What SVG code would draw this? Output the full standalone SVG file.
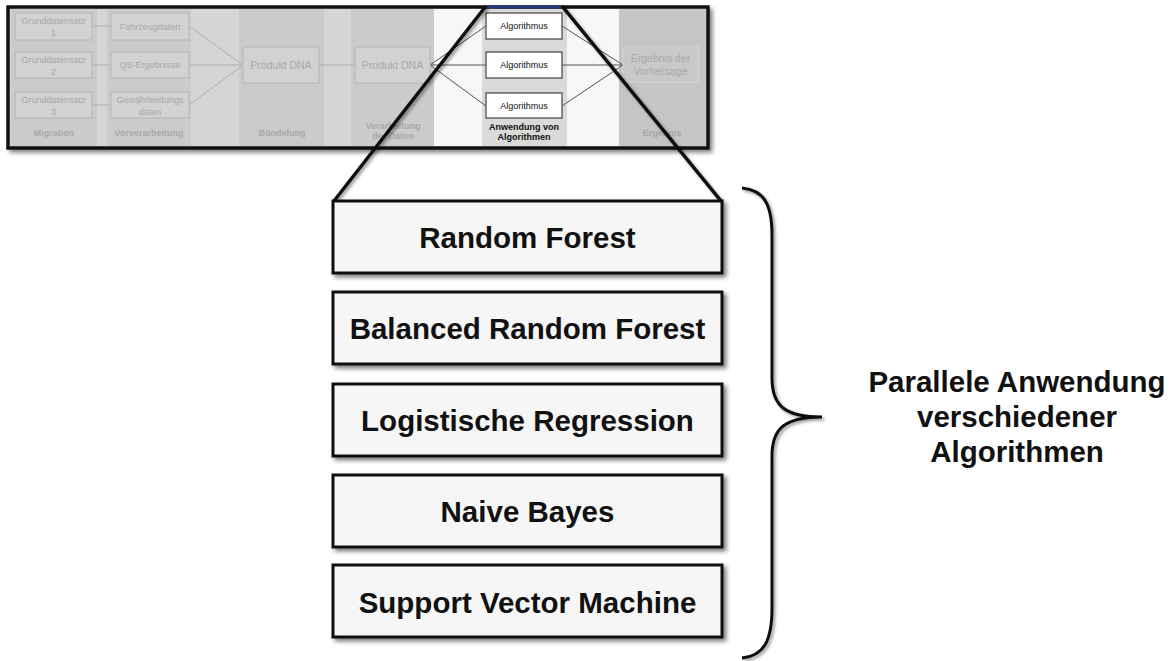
<svg xmlns="http://www.w3.org/2000/svg" width="1173" height="661" viewBox="0 0 1173 661">
<defs>
<filter id="sh" x="-10%" y="-10%" width="130%" height="140%">
<feDropShadow dx="3" dy="3" stdDeviation="2" flood-color="#000" flood-opacity="0.5"/>
</filter>
<filter id="shl" x="-20%" y="-20%" width="140%" height="140%">
<feDropShadow dx="2" dy="2" stdDeviation="1.5" flood-color="#000" flood-opacity="0.4"/>
</filter>
<style>
.fbox{fill:#d2d2d2;stroke:#bababa;stroke-width:1.2}
.ftxt{font-family:"Liberation Sans",Arial,sans-serif;font-size:9px;fill:#a9a9a9;text-anchor:middle}
.fbig{font-family:"Liberation Sans",Arial,sans-serif;font-size:10.5px;fill:#a9a9a9;text-anchor:middle}
.flab{font-family:"Liberation Sans",Arial,sans-serif;font-size:9px;font-weight:bold;fill:#a9a9a9;text-anchor:middle}
.fline{stroke:#b0b0b0;stroke-width:1;fill:none}
.aline{stroke:#555;stroke-width:1;fill:none}
.abox{fill:#fff;stroke:#444;stroke-width:1.2}
.atxt{font-family:"Liberation Sans",Arial,sans-serif;font-size:9px;fill:#111;text-anchor:middle}
.alab{font-family:"Liberation Sans",Arial,sans-serif;font-size:9px;font-weight:bold;fill:#111;text-anchor:middle}
.big{fill:#f6f6f6;stroke:#111;stroke-width:3}
.btxt{font-family:"Liberation Sans",Arial,sans-serif;font-size:29.5px;font-weight:bold;fill:#111;text-anchor:middle}
.zoom{stroke:#111;stroke-width:3.5;fill:none}
</style>
</defs>

<g id="overview">
<rect x="8" y="7" width="700" height="141" fill="#d5d5d5" stroke="#111" stroke-width="3" filter="url(#sh)"/>
<rect x="11" y="9" width="86" height="137" fill="#cbcbcb"/>
<rect x="107" y="9" width="84" height="137" fill="#cbcbcb"/>
<rect x="239" y="9" width="85" height="137" fill="#cbcbcb"/>
<rect x="351" y="9" width="83" height="137" fill="#cbcbcb"/>
<rect x="434" y="9" width="185" height="137" fill="#f7f7f7"/>
<rect x="482" y="9" width="85" height="137" fill="#dadada"/>
<rect x="619" y="9" width="87" height="137" fill="#c5c5c5"/>
<rect x="8" y="7" width="700" height="141" fill="none" stroke="#111" stroke-width="3"/>
<line x1="485" y1="7" x2="563" y2="7" stroke="#1f3a78" stroke-width="3"/>
</g>

<g id="connectors">
<line class="fline" x1="92" y1="26" x2="111" y2="26"/>
<line class="fline" x1="92" y1="65" x2="111" y2="65"/>
<line class="fline" x1="92" y1="105" x2="111" y2="105"/>
<line class="fline" x1="189" y1="26" x2="243" y2="65"/>
<line class="fline" x1="189" y1="65" x2="243" y2="65"/>
<line class="fline" x1="189" y1="105" x2="243" y2="65"/>
<line class="fline" x1="319" y1="65" x2="355" y2="65"/>
<line class="aline" x1="430" y1="65" x2="486" y2="26"/>
<line class="aline" x1="430" y1="65" x2="486" y2="65"/>
<line class="aline" x1="430" y1="65" x2="486" y2="106"/>
<line class="aline" x1="562" y1="26" x2="623" y2="65"/>
<line class="aline" x1="562" y1="65" x2="623" y2="65"/>
<line class="aline" x1="562" y1="106" x2="623" y2="65"/>
</g>

<g id="g1"><rect class="fbox" x="15" y="13" width="77" height="27"/><text class="ftxt" x="53.5" y="24">Grunddatensatz</text><text class="ftxt" x="53.5" y="36">1</text></g>
<g id="g2"><rect class="fbox" x="15" y="52" width="77" height="26"/><text class="ftxt" x="53.5" y="63">Grunddatensatz</text><text class="ftxt" x="53.5" y="75">2</text></g>
<g id="g3"><rect class="fbox" x="15" y="92" width="77" height="26"/><text class="ftxt" x="53.5" y="103">Grunddatensatz</text><text class="ftxt" x="53.5" y="115">3</text></g>
<g id="v1"><rect class="fbox" x="111" y="13" width="78" height="27"/><text class="ftxt" x="150" y="30">Fahrzeugdaten</text></g>
<g id="v2"><rect class="fbox" x="111" y="52" width="78" height="26"/><text class="ftxt" x="150" y="68">QS-Ergebnisse</text></g>
<g id="v3"><rect class="fbox" x="111" y="92" width="78" height="26"/><text class="ftxt" x="150" y="103">Gewährleistungs</text><text class="ftxt" x="150" y="115">daten</text></g>
<g id="p1"><rect class="fbox" x="243" y="47" width="76" height="36"/><text class="fbig" x="281" y="69">Produkt DNA</text></g>
<g id="p2"><rect class="fbox" x="355" y="47" width="75" height="36"/><text class="fbig" x="392.5" y="69">Produkt DNA</text></g>
<g id="a1"><rect class="abox" x="486" y="13" width="76" height="26"/><text class="atxt" x="524" y="29">Algorithmus</text></g>
<g id="a2"><rect class="abox" x="486" y="52" width="76" height="26"/><text class="atxt" x="524" y="68">Algorithmus</text></g>
<g id="a3"><rect class="abox" x="486" y="93" width="76" height="25"/><text class="atxt" x="524" y="109">Algorithmus</text></g>
<g id="e1"><rect x="623" y="47" width="75" height="35" fill="#c8c8c8" stroke="#d2d2d2" stroke-width="1.2"/><text class="fbig" x="660.5" y="62">Ergebnis der</text><text class="fbig" x="660.5" y="75">Vorhersage</text></g>

<g id="labels">
<text class="flab" x="54" y="136">Migration</text>
<text class="flab" x="149" y="136">Vorverarbeitung</text>
<text class="flab" x="282" y="136">Bündelung</text>
<text class="flab" x="393" y="129">Verarbeitung</text>
<text class="flab" x="393" y="139">der Daten</text>
<text class="alab" x="524" y="130">Anwendung von</text>
<text class="alab" x="524" y="140">Algorithmen</text>
<text class="flab" x="662" y="136">Ergebnis</text>
</g>

<g id="zoom-lines" filter="url(#shl)">
<line class="zoom" x1="486" y1="6" x2="334" y2="201"/>
<line class="zoom" x1="562" y1="6" x2="721" y2="201"/>
</g>

<g id="rf"><rect class="big" x="333" y="201" width="389" height="72" filter="url(#sh)"/><text class="btxt" x="527.5" y="248">Random Forest</text></g>
<g id="brf"><rect class="big" x="333" y="292" width="389" height="72" filter="url(#sh)"/><text class="btxt" x="527.5" y="339">Balanced Random Forest</text></g>
<g id="lr"><rect class="big" x="333" y="384" width="389" height="72" filter="url(#sh)"/><text class="btxt" x="527.5" y="431">Logistische Regression</text></g>
<g id="nb"><rect class="big" x="333" y="475" width="389" height="72" filter="url(#sh)"/><text class="btxt" x="527.5" y="522">Naive Bayes</text></g>
<g id="svm"><rect class="big" x="333" y="565" width="389" height="72" filter="url(#sh)"/><text class="btxt" x="527.5" y="613">Support Vector Machine</text></g>

<g id="brace">
<path d="M742,188 C763,190 772,203 772,235 L772,378 C772,406 785,417 822,417 C785,417 772,428 772,456 L772,608 C772,642 763,656 742,658" fill="none" stroke="#111" stroke-width="3" filter="url(#shl)"/>
<text class="btxt" x="1017" y="392">Parallele Anwendung</text>
<text class="btxt" x="1017" y="427">verschiedener</text>
<text class="btxt" x="1017" y="462">Algorithmen</text>
</g>
</svg>
